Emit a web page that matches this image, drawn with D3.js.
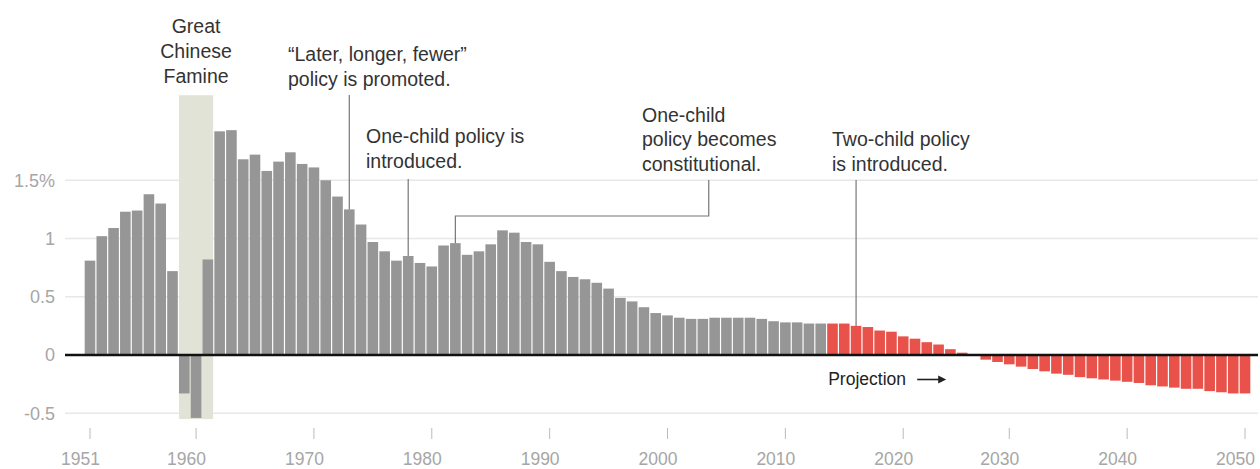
<!DOCTYPE html>
<html>
<head>
<meta charset="utf-8">
<script src="https://cdn.jsdelivr.net/npm/d3@7"></script>
<style>
  html, body { margin: 0; padding: 0; background: #fff; }
  svg { display: block; font-family: "Liberation Sans", Arial, sans-serif; }
</style>
</head>
<body>
<svg id="chart" width="1260" height="469"></svg>
<script>
// ---- data ----
const historicYears = d3.range(1951, 2014);   // 1951..2013 (gray)
const historicValues = [
  0.81, 1.02, 1.09, 1.23, 1.24, 1.38, 1.30, 0.72, -0.33, -0.54,
  0.82, 1.92, 1.93, 1.68, 1.72, 1.58, 1.66, 1.74, 1.64, 1.61,
  1.50, 1.36, 1.25, 1.12, 0.97, 0.89, 0.81, 0.85, 0.79, 0.76,
  0.94, 0.96, 0.86, 0.89, 0.95, 1.07, 1.05, 0.97, 0.95, 0.80,
  0.72, 0.67, 0.65, 0.62, 0.57, 0.49, 0.46, 0.41, 0.36, 0.34,
  0.32, 0.31, 0.31, 0.32, 0.32, 0.32, 0.32, 0.31, 0.29, 0.28,
  0.28, 0.27, 0.27
];
const projectionYears = d3.range(2014, 2050); // 2014..2049 (red)
const projectionValues = [
  0.27, 0.27, 0.25, 0.24, 0.21, 0.20, 0.16, 0.14, 0.11, 0.09,
  0.05, 0.02, 0.00, -0.04, -0.06, -0.08, -0.10, -0.12, -0.14, -0.16,
  -0.17, -0.19, -0.20, -0.21, -0.22, -0.23, -0.24, -0.26, -0.27, -0.28,
  -0.29, -0.29, -0.31, -0.32, -0.33, -0.33
];
const yTickValues = [-0.5, 0, 0.5, 1, 1.5];
const yTickLabels = ["-0.5", "0", "0.5", "1", "1.5%"];
const xTickYears  = [1951, 1960, 1970, 1980, 1990, 2000, 2010, 2020, 2029, 2039, 2049];
const xTickLabels = ["1951", "1960", "1970", "1980", "1990", "2000", "2010", "2020", "2030", "2040", "2050"];
const famine = { start: 1959, end: 1961, top: 2.23, bottom: -0.55 };
const annotations = [
  { year: 1973, lines: ["\u201cLater, longer, fewer\u201d", "policy is promoted."], x: 288, y: 61, lineTop: 95 },
  { year: 1978, lines: ["One-child policy is", "introduced."], x: 366, y: 143, lineTop: 179 },
  { year: 1982, lines: ["One-child", "policy becomes", "constitutional."], x: 642, y: 121.5, lineTop: 180, elbowY: 216, elbowYear: 2003 },
  { year: 2016, lines: ["Two-child policy", "is introduced."], x: 832, y: 146, lineTop: 180 }
];

// ---- setup ----
const data = historicYears.map((yr, i) => ({ year: yr, value: historicValues[i], proj: false }))
  .concat(projectionYears.map((yr, i) => ({ year: yr, value: projectionValues[i], proj: true })));
const valueOf = new Map(data.map(d => [d.year, d.value]));

const svg = d3.select("#chart");
const x = d3.scaleBand()
  .domain(data.map(d => d.year))
  .range([84.1, 1250.9])
  .paddingInner(0.1)
  .paddingOuter(0.05);
const y = d3.scaleLinear().domain([-0.5, 1.5]).range([413.25, 180.25]);
const bw = x.bandwidth();
const cx = yr => x(yr) + bw / 2;
const gridX0 = 65, gridX1 = 1258;

// gridlines
svg.append("g").selectAll("line")
  .data(yTickValues.filter(v => v !== 0))
  .join("line")
  .attr("x1", gridX0).attr("x2", gridX1)
  .attr("y1", d => y(d)).attr("y2", d => y(d))
  .attr("stroke", "#e8e8e8").attr("stroke-width", 1.5);

// y labels
svg.append("g").selectAll("text")
  .data(yTickValues)
  .join("text")
  .attr("x", 55)
  .attr("y", d => y(d))
  .attr("dy", "0.36em")
  .attr("text-anchor", "end")
  .attr("font-size", 18)
  .attr("fill", "#a6a6a6")
  .text((d, i) => yTickLabels[i]);

// famine shading
svg.append("rect")
  .attr("x", x(famine.start))
  .attr("width", x(famine.end) + bw - x(famine.start))
  .attr("y", y(famine.top))
  .attr("height", y(famine.bottom) - y(famine.top))
  .attr("fill", "#e2e3d7");

// bars
svg.append("g").selectAll("rect")
  .data(data)
  .join("rect")
  .attr("x", d => x(d.year))
  .attr("width", bw)
  .attr("y", d => y(Math.max(0, d.value)))
  .attr("height", d => Math.abs(y(d.value) - y(0)))
  .attr("fill", d => d.proj ? "#e8524a" : "#969696");

// zero line
svg.append("line")
  .attr("x1", gridX0).attr("x2", gridX1)
  .attr("y1", y(0)).attr("y2", y(0))
  .attr("stroke", "#111").attr("stroke-width", 2.5);

// x axis ticks and labels
const xg = svg.append("g");
xg.selectAll("line")
  .data(xTickYears)
  .join("line")
  .attr("x1", d => cx(d)).attr("x2", d => cx(d))
  .attr("y1", 428).attr("y2", 439)
  .attr("stroke", "#bbb").attr("stroke-width", 1);
xg.selectAll("text")
  .data(xTickYears)
  .join("text")
  .attr("x", d => cx(d) - 9.5)
  .attr("y", 465)
  .attr("text-anchor", "middle")
  .attr("font-size", 17.5)
  .attr("fill", "#a6a6a6")
  .text((d, i) => xTickLabels[i]);

// famine label
const famText = svg.append("text")
  .attr("text-anchor", "middle")
  .attr("font-size", 19.5)
  .attr("fill", "#333");
["Great", "Chinese", "Famine"].forEach((t, i) => {
  famText.append("tspan").attr("x", cx(1960)).attr("y", 32.5 + i * 25).text(t);
});

// annotations
annotations.forEach(a => {
  const t = svg.append("text").attr("font-size", 19.5).attr("fill", "#333");
  a.lines.forEach((l, i) => t.append("tspan").attr("x", a.x).attr("y", a.y + i * 24.5).text(l));
  const barTop = y(valueOf.get(a.year));
  if (a.elbowY) {
    const ex = x(a.elbowYear) + x.step() / 2 + bw / 2;
    svg.append("path")
      .attr("d", `M${cx(a.year)},${barTop}V${a.elbowY}H${ex}V${a.lineTop}`)
      .attr("fill", "none").attr("stroke", "#777").attr("stroke-width", 1.2);
  } else {
    svg.append("line")
      .attr("x1", cx(a.year)).attr("x2", cx(a.year))
      .attr("y1", a.lineTop).attr("y2", barTop)
      .attr("stroke", "#777").attr("stroke-width", 1.2);
  }
});

// projection label
const px = x(projectionYears[0]) + 1;
svg.append("text")
  .attr("x", px).attr("y", 385)
  .attr("font-size", 17.5)
  .attr("fill", "#222")
  .text("Projection");
svg.append("line")
  .attr("x1", px + 89).attr("x2", px + 112)
  .attr("y1", 379.5).attr("y2", 379.5)
  .attr("stroke", "#222").attr("stroke-width", 1.6);
svg.append("path")
  .attr("d", `M${px + 118},379.5L${px + 110},375.5L${px + 110},383.5Z`)
  .attr("fill", "#222");
</script>
</body>
</html>
